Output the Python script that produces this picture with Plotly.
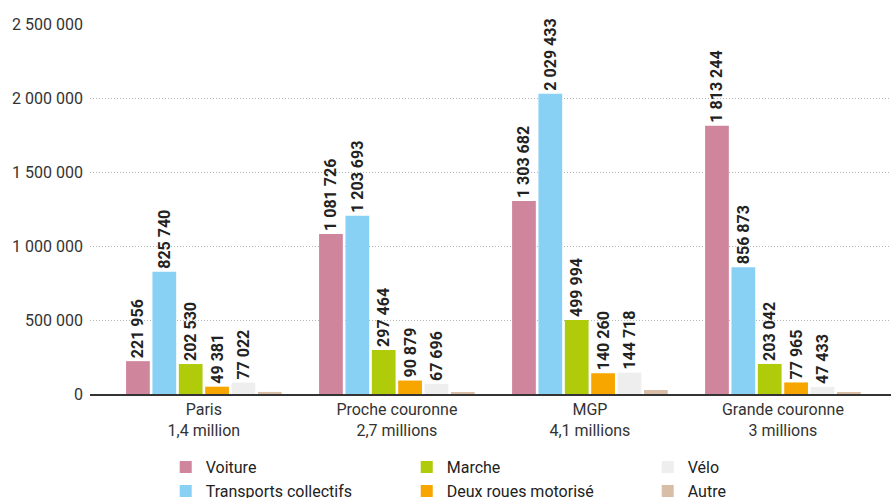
import plotly.graph_objects as go

categories = ["Paris<br>1,4 million", "Proche couronne<br>2,7 millions",
              "MGP<br>4,1 millions", "Grande couronne<br>3 millions"]

series_names = ["Voiture", "Transports collectifs", "Marche",
                "Deux roues motorisé", "Vélo", "Autre"]
voiture = [221956, 1081726, 1303682, 1813244]
transports = [825740, 1203693, 2029433, 856873]
marche = [202530, 297464, 499994, 203042]
deux_roues = [49381, 90879, 140260, 77965]
velo = [77022, 67696, 144718, 47433]
autre = [14000, 13000, 27000, 9000]  # unlabelled

values = [voiture, transports, marche, deux_roues, velo, autre]
colors = ["#cf869c", "#89d0f5", "#afcb0a", "#f7a600", "#eeeeee", "#d8bea6"]
show_labels = [True, True, True, True, True, False]
legend_ranks = [1, 4, 2, 5, 3, 6]

yticks = [0, 500000, 1000000, 1500000, 2000000, 2500000]

fig = go.Figure()
for name, vals, col, lab, rank in zip(series_names, values, colors, show_labels, legend_ranks):
    fig.add_trace(go.Bar(
        x=categories, y=vals, name=name,
        marker=dict(color=col, line=dict(width=0)),
        texttemplate="%{y:,d}" if lab else None,
        textposition="outside" if lab else "none",
        textangle=-90,
        constraintext="none",
        cliponaxis=False,
        textfont=dict(family="Roboto", size=16, color="#222222", weight="bold"),
        legendrank=rank,
    ))

fig.update_layout(
    width=891, height=498,
    margin=dict(l=90, r=0, t=24, b=104),
    paper_bgcolor="white", plot_bgcolor="white",
    separators=", ",
    barmode="group", bargap=0.18, bargroupgap=0.1,
    font=dict(family="Roboto", size=16, color="#333333"),
    showlegend=True,
    legend=dict(
        orientation="h", xref="container", yref="container",
        x=0.186, y=0.096, xanchor="left", yanchor="top",
        entrywidth=196, entrywidthmode="pixels",
        font=dict(size=16, color="#222222"),
        traceorder="normal",
        itemsizing="constant",
        tracegroupgap=0,
    ),
    xaxis=dict(
        range=[-0.59, 3.56], showgrid=False,
        showline=True, linecolor="#333333", linewidth=1.5,
        ticks="", tickfont=dict(size=16, color="#333333"),
        fixedrange=True,
    ),
    yaxis=dict(
        range=[0, 2500000], tickvals=yticks, tickformat=",d",
        showgrid=True, gridcolor="#b5b5b5", gridwidth=1, griddash="1px,2px",
        zeroline=False, showline=False,
        ticklabelstandoff=6,
        tickfont=dict(size=16, color="#333333"),
    ),
)

fig.write_html("out.html")
